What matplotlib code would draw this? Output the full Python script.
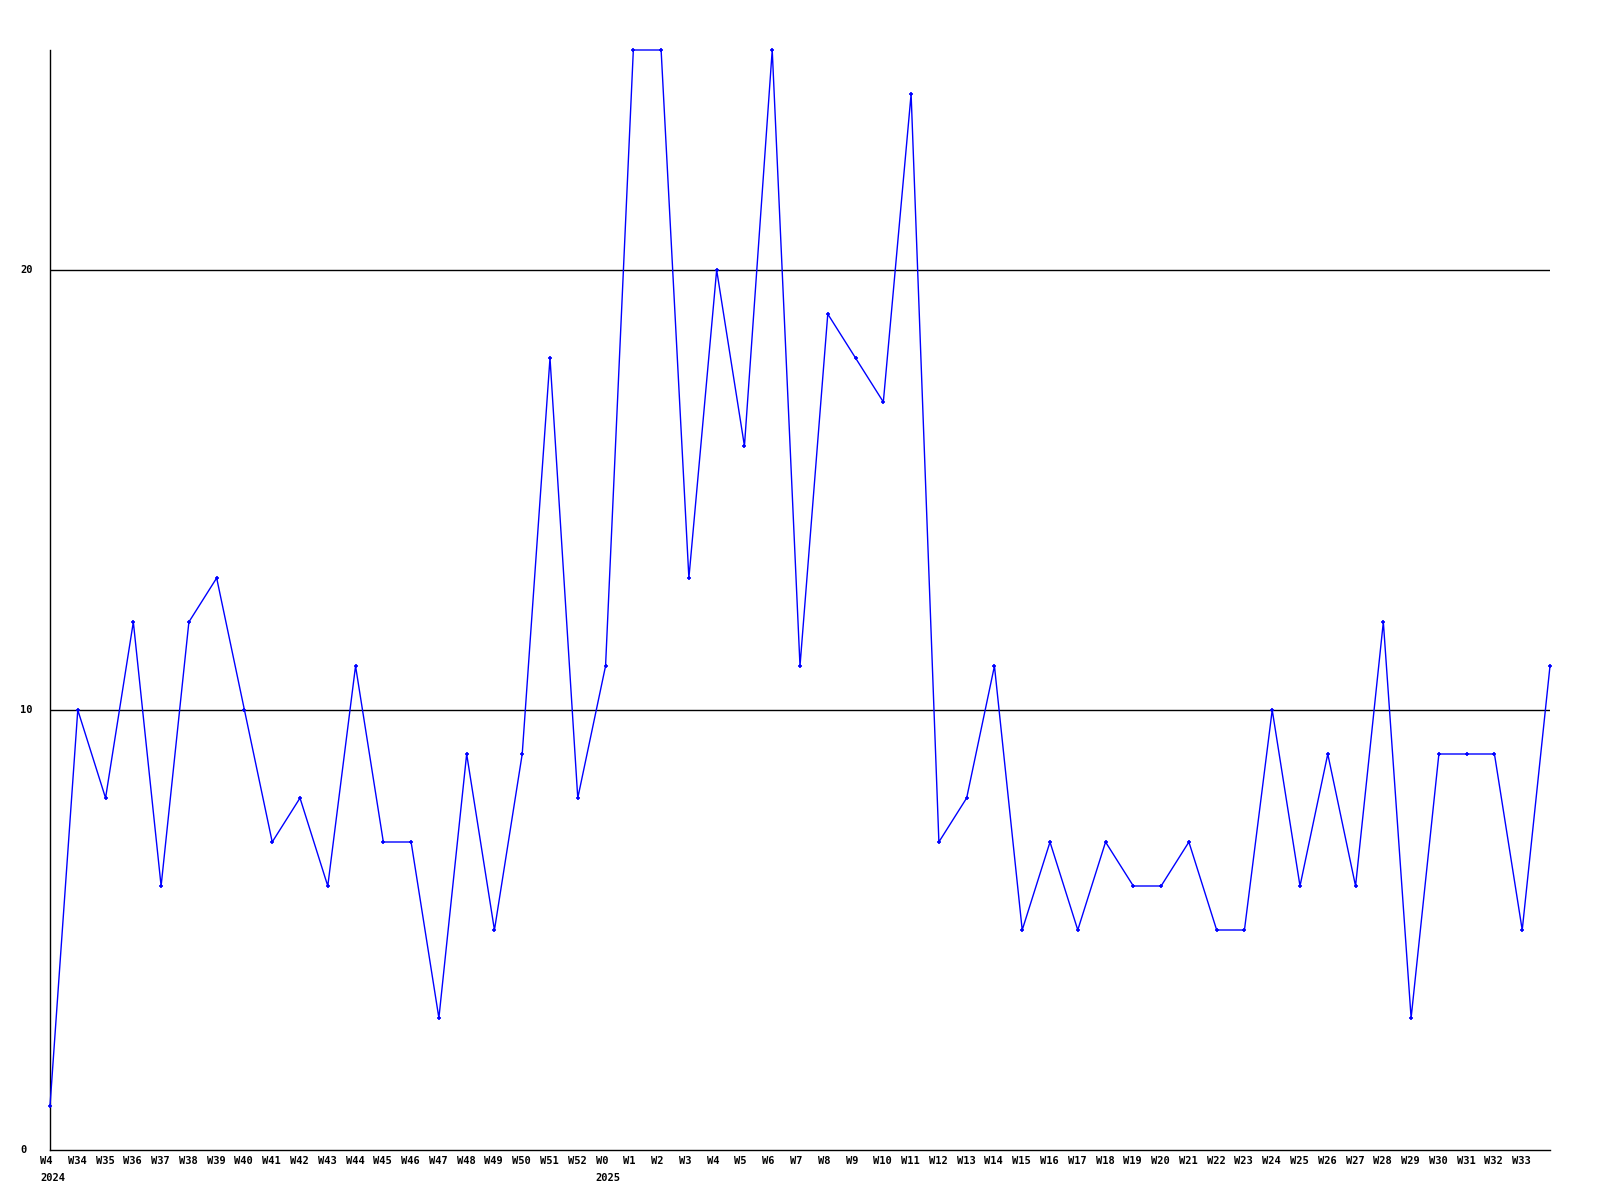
import matplotlib
matplotlib.use("Agg")
from matplotlib import pyplot as plt
from matplotlib import transforms

weeks = ["W4"] + ["W%d" % w for w in range(34, 53)] + ["W%d" % w for w in range(0, 34)] + [""]
years = {0: "2024", 20: "2025"}
values = [1, 10, 8, 12, 6, 12, 13, 10, 7, 8, 6, 11, 7, 7, 3, 9, 5, 9, 18, 8,
          11, 25, 25, 13, 20, 16, 25, 11, 19, 18, 17, 24, 7, 8, 11, 5, 7, 5, 7, 6,
          6, 7, 5, 5, 10, 6, 9, 6, 12, 3, 9, 9, 9, 5, 11]
y_ticks = [0, 10, 20]

fig = plt.figure(figsize=(16, 12), dpi=100)
ax = fig.add_axes([50 / 1600, 50 / 1200, 1500 / 1600, 1100 / 1200])

x = list(range(len(values)))
ax.plot(x, values, color="#0000ff", linewidth=1, marker="+", markersize=3,
        markeredgewidth=1.2, zorder=3, clip_on=False)

for t in y_ticks[1:]:
    ax.axhline(t, color="black", linewidth=1, zorder=1)

ax.set_xlim(0, len(values) - 1)
ax.set_ylim(0, 25)
ax.set_xticks([])
ax.set_yticks([])
ax.spines["top"].set_visible(False)
ax.spines["right"].set_visible(False)
ax.spines["left"].set_linewidth(1)
ax.spines["bottom"].set_linewidth(1)

font = dict(family="DejaVu Sans Mono", fontweight="bold", fontsize=7.5)

# x labels, left aligned a bit before the tick
off = transforms.offset_copy(ax.transData, fig=fig, x=-10, y=0, units="dots")
xt = transforms.blended_transform_factory(off, fig.transFigure)
for i, lab in enumerate(weeks):
    if lab:
        ax.text(i, 1 - 1161 / 1200, lab, transform=xt, ha="left", va="center", **font)
    if i in years:
        ax.text(i, 1 - 1178 / 1200, years[i], transform=xt, ha="left", va="center", **font)

yt = transforms.blended_transform_factory(fig.transFigure, ax.transData)
for t in y_ticks:
    ax.text(20 / 1600, t, str(t), transform=yt, ha="left", va="center", **font)

fig.savefig("out.png", dpi=100)
